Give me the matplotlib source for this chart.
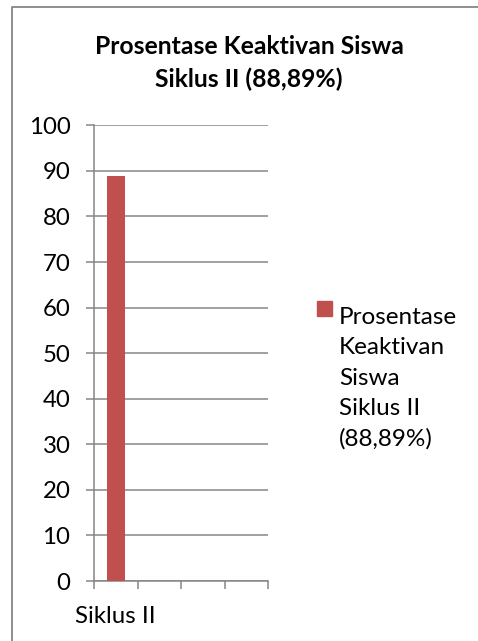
import matplotlib.pyplot as plt
from matplotlib.lines import Line2D
from matplotlib.patches import Rectangle

# data
categories = ["Siklus II"]
values = [88.89]
series_name = "Prosentase\nKeaktivan\nSiswa\nSiklus II\n(88,89%)"
title = "Prosentase Keaktivan Siswa\nSiklus II (88,89%)"
y_ticks = [0, 10, 20, 30, 40, 50, 60, 70, 80, 90, 100]
n_slots = 4

bar_color = '#C0504D'
grid_color = '#868686'

plt.rcParams['font.family'] = ['Lato', 'DejaVu Sans']

W, H = 478, 641
fig = plt.figure(figsize=(W / 100, H / 100), dpi=100)
ax = fig.add_axes([94 / W, 1 - 581 / H, 174 / W, (581 - 125.3) / H])

ax.bar(range(len(values)), values, width=0.41, color=bar_color, zorder=3)

ax.set_xlim(-0.5, n_slots - 0.5)
ax.set_ylim(0, 100)
ax.set_yticks(y_ticks)
ax.yaxis.grid(True, color=grid_color, linewidth=1.1)
ax.set_axisbelow(True)

# category borders as ticks, labels centred on the category
ax.set_xticks([i - 0.5 for i in range(n_slots + 1)])
ax.set_xticklabels([])
ax.set_xticks(range(len(categories)), minor=True)
ax.set_xticklabels(categories, minor=True)
ax.tick_params(axis='x', which='minor', length=0, pad=18, labelsize=17.3)
ax.tick_params(axis='x', which='major', direction='out', length=6, width=1.1, color=grid_color)
ax.tick_params(axis='y', direction='out', length=6, width=1.1, color=grid_color, pad=11, labelsize=17.3)

for s in ['top', 'right']:
    ax.spines[s].set_visible(False)
for s in ['left', 'bottom']:
    ax.spines[s].set_color(grid_color)
    ax.spines[s].set_linewidth(1.1)

fig.text(249 / W, 1 - 87 / H, title, ha='center', va='baseline', fontsize=17.8,
         fontweight='bold', linespacing=1.5)

# legend
fig.patches.append(Rectangle((317 / W, 1 - 316 / H), 15 / W, 15 / H,
                             transform=fig.transFigure, color=bar_color))
fig.text(339 / W, 1 - 446 / H, series_name, ha='left', va='baseline',
         fontsize=17.5, linespacing=1.55)

# outer chart border
fig.lines.append(Line2D([12 / W, 12 / W, 1], [0, 1 - 7 / H, 1 - 7 / H],
                        transform=fig.transFigure, color=grid_color, linewidth=1.3))

fig.savefig('out.png', dpi=100)
